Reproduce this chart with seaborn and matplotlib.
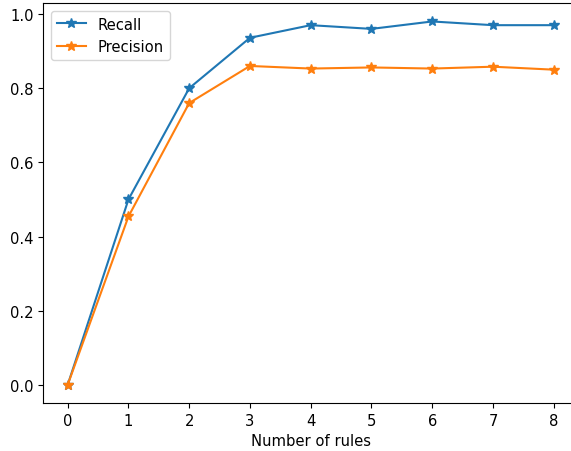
import matplotlib
matplotlib.use("Agg")
import matplotlib.pyplot as plt
import seaborn as sns
import pandas as pd

# values
num_rules = [0, 1, 2, 3, 4, 5, 6, 7, 8]
recall = [0.0, 0.50, 0.80, 0.936, 0.970, 0.960, 0.980, 0.970, 0.970]
precision = [0.0, 0.454, 0.760, 0.860, 0.853, 0.856, 0.853, 0.858, 0.850]

df = pd.DataFrame({"rules": num_rules, "Recall": recall, "Precision": precision})

plt.rcParams["font.size"] = 10.6

fig = plt.figure(figsize=(5.71, 4.52), dpi=100)
# the original axes run slightly past the right edge of the image
ax = fig.add_axes([43.4/571, 1 - 404/452, (578 - 43.4)/571, (404 - 4.3)/452])

sns.lineplot(data=df, x="rules", y="Recall", marker="*", markersize=7,
             markeredgewidth=1, markeredgecolor="#1f77b4", color="#1f77b4",
             label="Recall", ax=ax)
sns.lineplot(data=df, x="rules", y="Precision", marker="*", markersize=7,
             markeredgewidth=1, markeredgecolor="#ff7f0e", color="#ff7f0e",
             label="Precision", ax=ax)

ax.set_xlabel("Number of rules")
ax.set_ylabel("")
ax.set_xticks(num_rules)
ax.legend(loc="upper left")

plt.savefig("out.png", dpi=100)
